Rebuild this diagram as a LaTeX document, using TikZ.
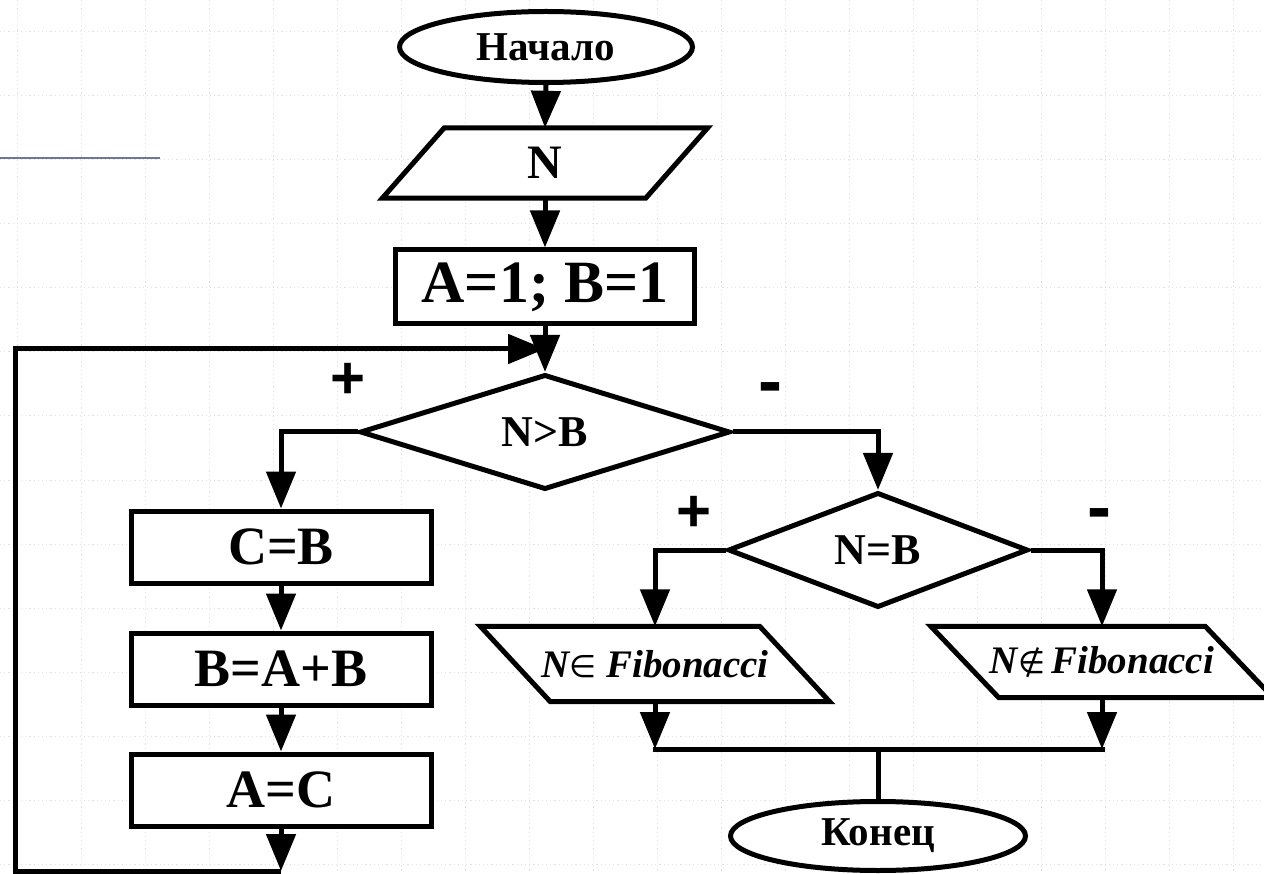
\documentclass[tikz,border=0pt]{standalone}
\usepackage{fontspec}
\setmainfont{Liberation Serif}
\newfontfamily\signfam{Liberation Sans}
\newfontfamily\symfam{DejaVu Sans}
\newcommand\elemsym[1]{{\symfam\mdseries\upshape\fontsize{31}{31}\selectfont #1}}
\usetikzlibrary{shapes.geometric,arrows.meta,calc}
\pgfdeclarelayer{grid}
\pgfdeclarelayer{bg}
\pgfsetlayers{grid,bg,main}
\definecolor{gridc}{RGB}{222,225,236}
\definecolor{slate}{RGB}{110,120,150}

\begin{document}
\begin{tikzpicture}[x=1pt,y=-1pt,
  conn/.style={line width=5pt},
  arr/.style={line width=5pt, -{Triangle[length=37pt,width=29pt]}},
  box/.style={draw, line width=5pt, fill=white, rectangle, inner sep=0pt,
    minimum width=300pt, minimum height=72pt,
    font=\bfseries\fontsize{54}{54}\selectfont},
  term/.style={draw, line width=5pt, fill=white, ellipse, inner sep=0pt,
    font=\bfseries\fontsize{41}{41}\selectfont},
  decide/.style={draw, line width=5pt, fill=white, diamond, inner sep=0pt,
    font=\bfseries\fontsize{44}{44}\selectfont},
  io/.style={rectangle, inner sep=0pt},
  iofig/.style={draw, line width=5pt, fill=white},
  plus/.style={inner sep=0pt, font=\signfam\bfseries\fontsize{60}{60}\selectfont},
  minus/.style={inner sep=0pt, anchor=north, font=\signfam\bfseries\fontsize{72}{72}\selectfont},
  fibo/.style={font=\bfseries\itshape\fontsize{39}{39}\selectfont},
  gridline/.style={draw=gridc, line width=1pt, dash pattern=on 1.2pt off 3pt},
]
\useasboundingbox (0,0) rectangle (1264,874);

% paper with a dotted grid
\begin{pgfonlayer}{grid}
  \fill[white] (0,0) rectangle (1264,874);
  \foreach \x in {17,81,...,1264} \draw[gridline] (\x,0) -- (\x,874);
  \foreach \y in {32,96,...,874} \draw[gridline] (0,\y) -- (1264,\y);
  \draw[slate, line width=2.5pt] (0,158) -- (160,158);
\end{pgfonlayer}

% blocks
\node[term, minimum width=293pt, minimum height=71pt] (start) at (546,47) {Начало};
\node[io, minimum width=263pt, minimum height=70pt, font=\bfseries\fontsize{48}{48}\selectfont] (inN) at (545,163) {N};
\node[box, minimum width=299pt, minimum height=74pt, font=\bfseries\fontsize{60}{60}\selectfont] (init) at (545,287) {A=1; B=1};
\coordinate (join) at (545,349);
\node[decide, minimum width=370pt, minimum height=103pt] (c1) at (545,432) {N>B};
\node[plus] (p1) at (348,381) {+};
\node[minus] (m1) at (770,382) {-};

\node[box] (s1) at (281,547) {C=B};
\node[box] (s2) at (281,669) {B=A+B};
\node[box] (s3) at (281,790) {A=C};

\node[decide, minimum width=300pt, minimum height=74pt] (c2) at (878,550) {N=B};
\node[plus] (p2) at (694,514) {+};
\node[minus] (m2) at (1099,508) {-};

\node[io, minimum width=279pt, minimum height=75pt, fibo] (yes) at (655,664)
  {N\elemsym{∈} Fibonacci};
\node[io, minimum width=274pt, minimum height=71pt, fibo] (no) at (1102,662)
  {N\elemsym{∉}\,Fibonacci};

\node[term, minimum width=295pt, minimum height=69pt] (end) at (878,836) {Конец};

% input/output parallelograms behind their labels
\begin{pgfonlayer}{bg}
  \draw[iofig] ($(inN.south west)+(-31,0)$) -- ($(inN.north west)+(31,0)$)
    -- ($(inN.north east)+(31,0)$) -- ($(inN.south east)+(-31,0)$) -- cycle;
  \draw[iofig] ($(yes.south west)+(35,0)$) -- ($(yes.north west)+(-35,0)$)
    -- ($(yes.north east)+(-35,0)$) -- ($(yes.south east)+(35,0)$) -- cycle;
  \draw[iofig] ($(no.south west)+(34,0)$) -- ($(no.north west)+(-34,0)$)
    -- ($(no.north east)+(-34,0)$) -- ($(no.south east)+(34,0)$) -- cycle;
\end{pgfonlayer}

% main flow
\draw[arr] (start.south) -- (inN.north);
\draw[arr] (inN.south) -- (init.north);
\draw[arr] (init.south) -- (c1.north);

% loop body
\draw[arr] (c1.west) -| (s1.north);
\draw[arr] (s1.south) -- (s2.north);
\draw[arr] (s2.south) -- (s3.north);
\coordinate (lb) at (281,871);
\coordinate (lc) at (15,871);
\coordinate (ld) at (15,349);
\draw[arr] (s3.south) -- (lb);
\draw[arr] (lb) -- (lc) -- (ld) -- (join);

% exit branch
\draw[arr] (c1.east) -| (c2.north);
\draw[arr] (c2.west) -| (yes.north);
\draw[arr] (c2.east) -| (no.north);
\coordinate (mrow) at (0,749);
\draw[arr] (yes.south) -- (yes.south |- mrow);
\draw[arr] (no.south) -- (no.south |- mrow);
\draw[conn, line cap=rect] (yes.south |- mrow) -- (no.south |- mrow);
\draw[conn] (end.north |- mrow) -- (end.north);
\end{tikzpicture}
\end{document}
